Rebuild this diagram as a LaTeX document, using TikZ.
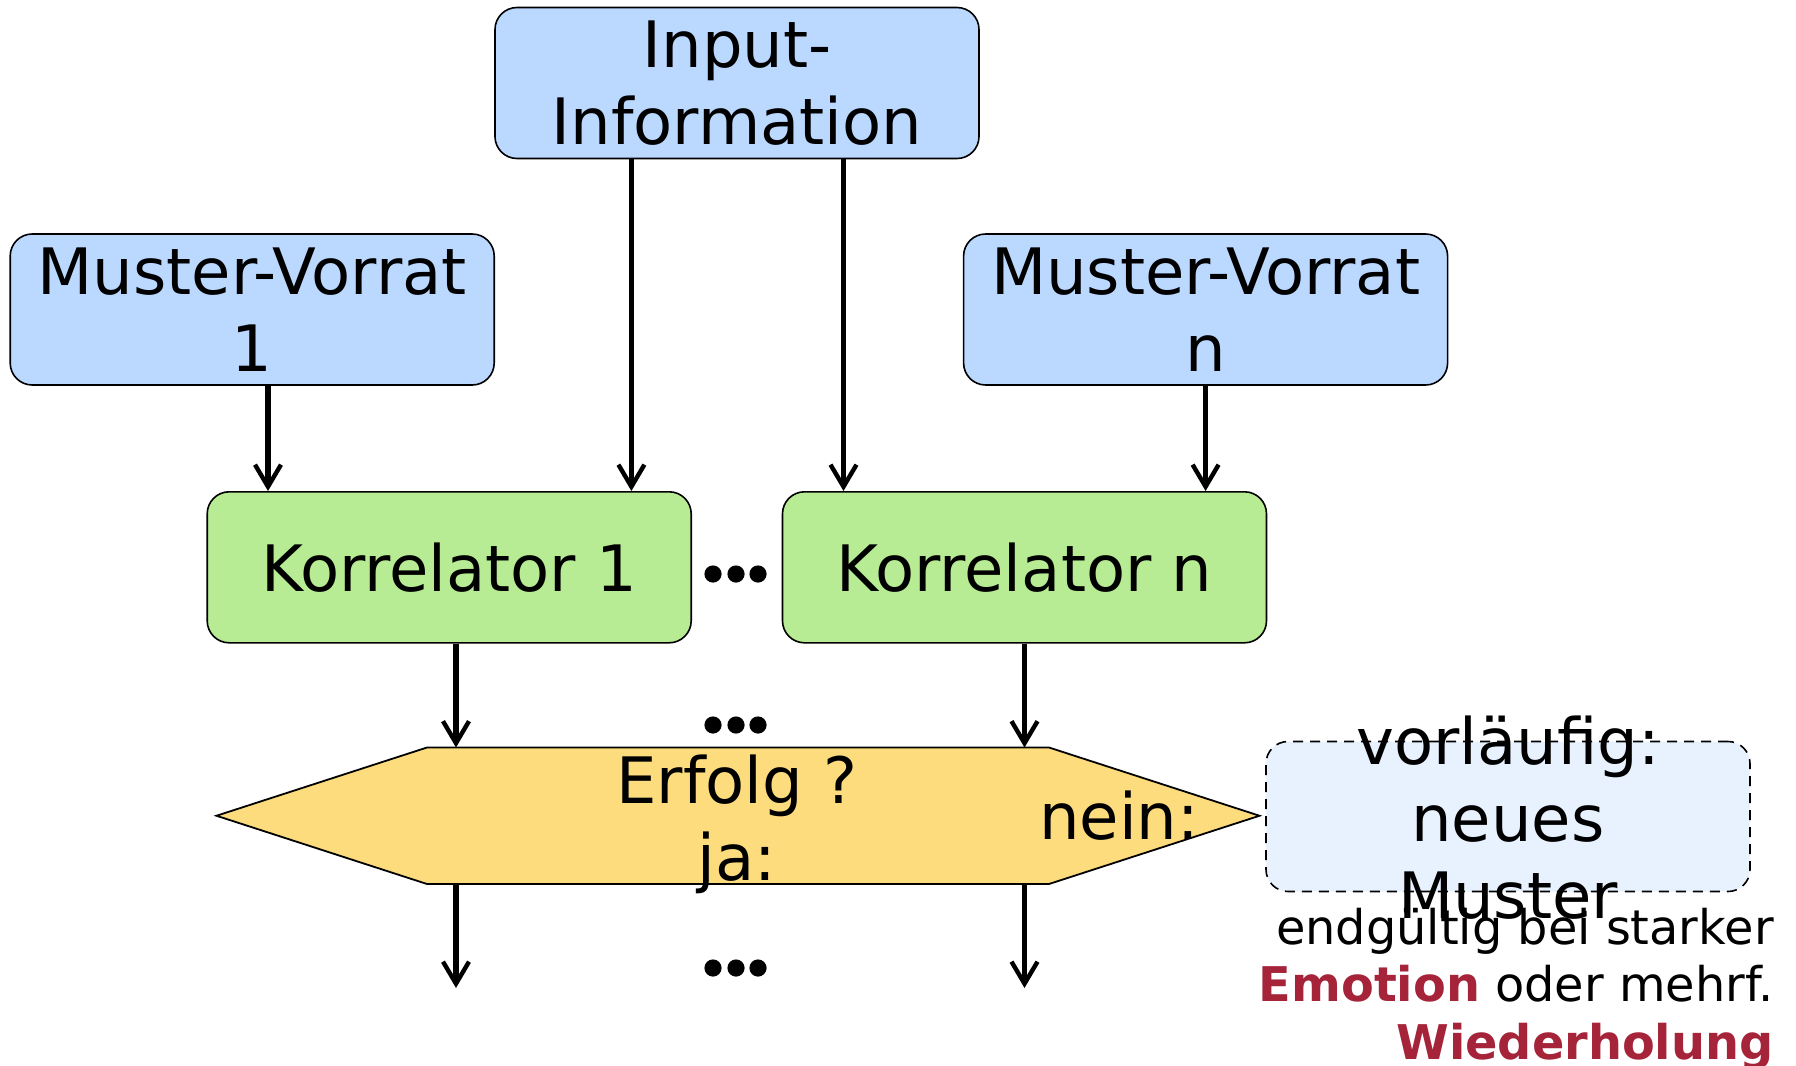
\documentclass[tikz,border=0pt]{standalone}
\usepackage{fontspec}
\setmainfont{DejaVu Sans}
\usetikzlibrary{arrows.meta,calc}
\definecolor{boxblue}{RGB}{187,216,255}
\definecolor{boxgreen}{RGB}{184,236,148}
\definecolor{hexyellow}{RGB}{253,220,126}
\definecolor{paleblue}{RGB}{232,242,255}
\definecolor{emred}{RGB}{165,36,58}
\newcommand\bigtxt{\fontsize{32pt}{38.35pt}\selectfont}
\newcommand\smalltxt{\fontsize{23.9pt}{28.65pt}\selectfont}
\begin{document}
\begin{tikzpicture}[x=0.5pt,y=-0.5pt,
  box/.style={draw=black, line width=0.8pt, rounded corners=11pt,
    minimum width=242pt, minimum height=75.5pt, inner sep=0pt,
    align=center, font=\bigtxt},
  dashbox/.style={draw=black, line width=0.8pt, dash pattern=on 5pt off 3.5pt,
    rounded corners=11pt, fill=paleblue, minimum width=242pt,
    minimum height=75pt, inner sep=0pt},
  lbl/.style={font=\bigtxt, align=center, inner sep=0pt},
  arr/.style={draw=black, line width=2.8pt,
    -{Straight Barb[length=11pt,width=13pt,line width=2.2pt]}},
  hexshape/.style={draw=black, line width=0.9pt, fill=hexyellow},
  dot/.style={fill=black}]
\useasboundingbox (0,0) rectangle (1796,1066);

% boxes
\node[box, fill=boxblue] (inp) at (737,83) {Input-\\Information};
\node[box, fill=boxblue] (mv1) at (252.2,309.5) {Muster-Vorrat\\1};
\node[box, fill=boxblue] (mvn) at (1205.6,309.5) {Muster-Vorrat\\n};
\node[box, fill=boxgreen] (k1) at (449.2,567.3) {Korrelator 1};
\node[box, fill=boxgreen] (kn) at (1024.5,567.3) {Korrelator n};

% decision hexagon
\node[minimum width=311pt, minimum height=68.25pt, inner sep=0pt, outer sep=0pt] (hex) at (738,815.75) {};
\path[hexshape] (hex.north west) -- (hex.north east) -- ($(hex.east)+(210.5,0)$)
  -- (hex.south east) -- (hex.south west) -- ($(hex.west)+(-210.5,0)$) -- cycle;
\node[lbl] (erf) at (737,824) {Erfolg ?\\ja:};
\node[lbl] (nein) at (1119,816) {nein:};

% provisional box
\node[dashbox] (vb) at (1508,816.5) {};
\node[lbl] (vt) at (1508,817.6) {vorläufig:\\neues\\Muster};

% note
\node[font=\smalltxt, align=right, inner sep=0pt, anchor=east] (note) at (1774,988.8)
  {endgültig bei starker\\\textbf{\textcolor{emred}{Emotion}} oder mehrf.\\\textbf{\textcolor{emred}{Wiederholung}}};

% arrow x positions
\coordinate (xa) at (268,0);
\coordinate (xb) at (631.4,0);
\coordinate (xc) at (843.5,0);
\coordinate (xd) at (1205.6,0);
\coordinate (xe) at (456,0);
\coordinate (xf) at (1024.5,0);
\coordinate (e1) at (456,988);
\coordinate (e2) at (1024.5,988);

\draw[arr] (mv1.south -| xa) -- (k1.north -| xa);
\draw[arr] (inp.south -| xb) -- (k1.north -| xb);
\draw[arr] (inp.south -| xc) -- (kn.north -| xc);
\draw[arr] (mvn.south -| xd) -- (kn.north -| xd);
\draw[arr] (k1.south -| xe) -- (hex.north -| xe);
\draw[arr] (kn.south -| xf) -- (hex.north -| xf);
\draw[arr] (hex.south -| e1) -- (e1);
\draw[arr] (hex.south -| e2) -- (e2);

% ellipsis dots
\foreach \yy in {574,725,968}{
  \foreach \xx in {713,736,758}{
    \fill[dot] (\xx,\yy) circle (4.3pt);
  }
}
\end{tikzpicture}
\end{document}
